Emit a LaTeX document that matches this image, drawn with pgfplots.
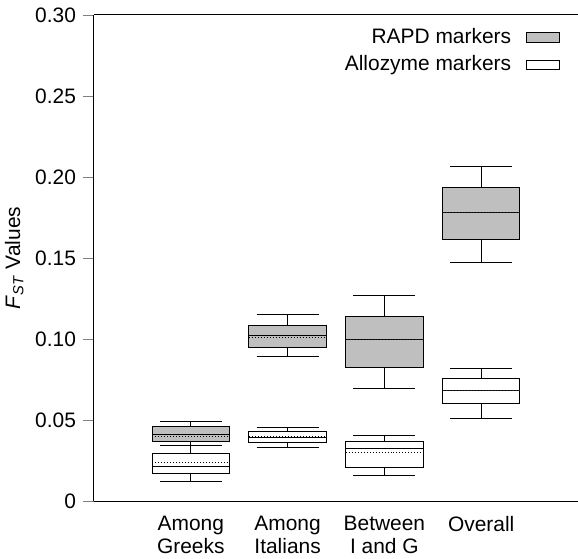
\documentclass[border=0pt]{standalone}
\usepackage{fontspec}
\setmainfont{Liberation Sans}
\usepackage{pgfplots}
\pgfplotsset{compat=1.18}
\usepgfplotslibrary{statistics}

\definecolor{stipple}{gray}{0.75}

\begin{document}
\begin{tikzpicture}
\useasboundingbox (-47bp,-29bp) rectangle (242bp,250.5bp);
\begin{axis}[
    at={(0,0)}, anchor=south west,
    scale only axis,
    width=242bp, height=243bp,
    xmin=0, xmax=5, ymin=0, ymax=0.30,
    axis x line*=box, axis y line*=left,
    axis line style={-, line width=0.5pt},
    ytick={0,0.05,0.10,0.15,0.20,0.25,0.30},
    yticklabels={0,0.05,0.10,0.15,0.20,0.25,0.30},
    tick align=outside, major tick length=5.5bp,
    xtick={1,2,3,4},
    xticklabels={{Among\\Greeks},{Among\\Italians},{Between\\I and G},{Overall}},
    xtick style={draw=none},
    xticklabel style={align=center, yshift=1.5bp},
    tick label style={font=\fontsize{10.5}{11.5}\selectfont},
    ylabel={\textit{F}\textsubscript{\textit{ST}} Values},
    ylabel style={font=\fontsize{10.5}{12}\selectfont, yshift=-1bp},
    legend style={draw=none, fill=none, at={(rel axis cs:0.976,0.989)}, anchor=north east,
        font=\fontsize{10.5}{12}\selectfont, row sep=0.5bp},
    legend cell align=right,
    legend plot pos=right,
    boxplot/draw direction=y,
    boxplot/box extend=0.8,
    boxplot/draw/average/.code={%
        \draw[densely dotted] (boxplot box cs:\pgfplotsboxplotvalue{average},0) --
            (boxplot box cs:\pgfplotsboxplotvalue{average},1);},
]
\addlegendimage{legend image code/.code={\path (0bp,0bp); \draw[line width=0.5pt, fill=stipple] (5.5bp,-2.4bp) rectangle (22bp,2.4bp);}}
\addlegendentry{RAPD markers}
\addlegendimage{legend image code/.code={\path (0bp,0bp); \draw[line width=0.5pt, fill=white] (5.5bp,-2.4bp) rectangle (22bp,2.4bp);}}
\addlegendentry{Allozyme markers}

% RAPD markers
\addplot[forget plot, line width=0.5pt, draw=black, fill=stipple, boxplot prepared={draw position=1,
    lower whisker=0.034, lower quartile=0.037, median=0.041, average=0.040,
    upper quartile=0.046, upper whisker=0.049}] coordinates {};
\addplot[forget plot, line width=0.5pt, draw=black, fill=stipple, boxplot prepared={draw position=2,
    lower whisker=0.0895, lower quartile=0.0946, median=0.102, average=0.101,
    upper quartile=0.1086, upper whisker=0.1152}] coordinates {};
\addplot[forget plot, line width=0.5pt, draw=black, fill=stipple, boxplot prepared={draw position=3,
    lower whisker=0.0693, lower quartile=0.0823, median=0.0996, average=0.0996,
    upper quartile=0.114, upper whisker=0.1266}] coordinates {};
\addplot[forget plot, line width=0.5pt, draw=black, fill=stipple, boxplot prepared={draw position=4,
    lower whisker=0.147, lower quartile=0.1614, median=0.1781, average=0.178,
    upper quartile=0.1934, upper whisker=0.2064}] coordinates {};

% Allozyme markers
\addplot[forget plot, line width=0.5pt, draw=black, fill=white, boxplot prepared={draw position=1,
    lower whisker=0.012, lower quartile=0.017, median=0.0215, average=0.0235,
    upper quartile=0.0295, upper whisker=0.034}] coordinates {};
\addplot[forget plot, line width=0.5pt, draw=black, fill=white, boxplot prepared={draw position=2,
    lower whisker=0.0332, lower quartile=0.0363, median=0.0394, average=0.040,
    upper quartile=0.0431, upper whisker=0.0456}] coordinates {};
\addplot[forget plot, line width=0.5pt, draw=black, fill=white, boxplot prepared={draw position=3,
    lower whisker=0.0159, lower quartile=0.0204, median=0.0323, average=0.0297,
    upper quartile=0.0369, upper whisker=0.0404}] coordinates {};
\addplot[forget plot, line width=0.5pt, draw=black, fill=white, boxplot prepared={draw position=4,
    lower whisker=0.0511, lower quartile=0.0604, median=0.0682, average=0.0682,
    upper quartile=0.0754, upper whisker=0.0816}] coordinates {};
\end{axis}
\end{tikzpicture}
\end{document}
